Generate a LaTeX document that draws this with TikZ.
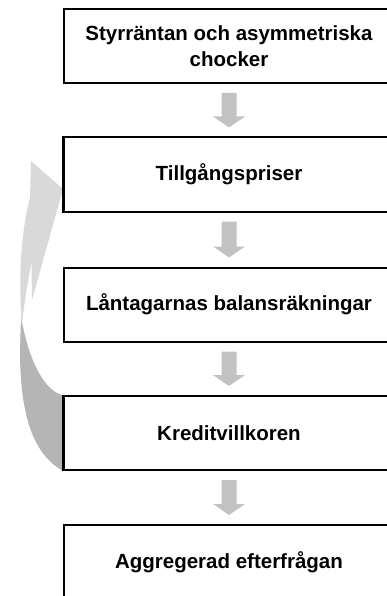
\documentclass[tikz,border=0pt]{standalone}
\usepackage{fontspec}
\setmainfont{Liberation Sans}
\usetikzlibrary{positioning,calc}

\definecolor{flowgray}{gray}{0.76}
\definecolor{loopfront}{gray}{0.85}
\definecolor{loopback}{gray}{0.71}

\tikzset{
    stage/.style={draw=black, line width=2pt, fill=white, minimum width=330pt,
        minimum height=74pt, inner sep=0pt, align=center,
        font=\fontsize{20.5}{26}\selectfont\bfseries},
}

% Block arrow between two stages
\newcommand{\flowarrow}[2]{%
    \fill[flowgray] ($(#1.south)+(-7.5,9)$) -- ($(#1.south)+(7.5,9)$)
        -- ($(#2.north)+(7.5,-20)$) -- ($(#2.north)+(16,-20)$)
        -- ($(#2.north)+(0,-9)$) -- ($(#2.north)+(-16,-20)$)
        -- ($(#2.north)+(-7.5,-20)$) -- cycle;}

\begin{document}
\begin{tikzpicture}[x=1pt, y=-1pt]
    % Page frame
    \useasboundingbox (0,0) rectangle (387,596);
    \clip (0,0) rectangle (387,596);

    % Define the stages
    \node[stage] (styr)   at (229,46)    {Styrräntan och asymmetriska\\chocker};
    \node[stage] (pris)   at (229,174.5) {Tillgångspriser};
    \node[stage] (balans) at (229,304.5) {Låntagarnas balansräkningar};
    \node[stage] (kredit) at (229,433)   {Kreditvillkoren};
    \node[stage] (efter)  at (229,562)   {Aggregerad efterfrågan};

    % Draw the feedback loop from the credit terms back to asset prices
    \fill[loopback] (kredit.south west) .. controls (35,455) and (20,420) .. (20,350)
        -- (21,316) .. controls (28,360) and (45,392) .. (kredit.north west) -- cycle;
    \fill[loopfront] (31,161) -- ($(pris.west)+(0,14.5)$) -- (32,300)
        -- (31.5,263) .. controls (27,285) and (24,305) .. (22,325)
        .. controls (19,290) and (19,240) .. (30,197) -- cycle;

    % Redraw the stages on top
    \foreach \s in {pris,kredit}
        \draw[line width=2pt] (\s.north west) -- (\s.south west);

    % Add the flow arrows
    \flowarrow{styr}{pris}
    \flowarrow{pris}{balans}
    \flowarrow{balans}{kredit}
    \flowarrow{kredit}{efter}
\end{tikzpicture}
\end{document}
